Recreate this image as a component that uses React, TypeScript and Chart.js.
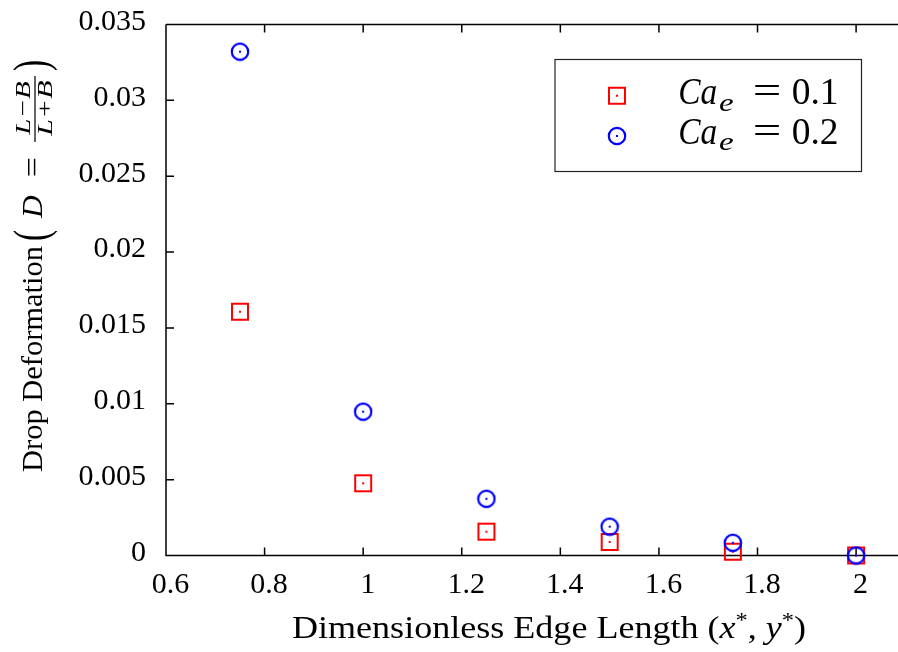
import React, { useEffect, useRef } from "react";
import { Chart, registerables } from "chart.js";

Chart.register(...registerables);

// ---- data ----
const edgeLength = [0.75, 1.0, 1.25, 1.5, 1.75, 2.0];
const deformationCa01 = [0.01607, 0.00476, 0.00157, 0.00089, 0.00025, 0.0];
const deformationCa02 = [0.03321, 0.00948, 0.00374, 0.0019, 0.00084, 0.0];
const xTickValues = [0.6, 0.8, 1.0, 1.2, 1.4, 1.6, 1.8, 2.0];
const yTickValues = [0, 0.005, 0.01, 0.015, 0.02, 0.025, 0.03, 0.035];
const seriesValues = ["0.1", "0.2"];
const xTitleText = "Dimensionless Edge Length (";
const yTitleText = "Drop Deformation";

const SERIF = '"Liberation Serif", "Times New Roman", serif';

function fmt(v: number): string {
  return String(parseFloat(Number(v).toFixed(4)));
}

function makeMarker(shape: "square" | "circle", color: string): HTMLCanvasElement {
  const c = document.createElement("canvas");
  c.width = 20;
  c.height = 20;
  const g = c.getContext("2d")!;
  g.strokeStyle = color;
  g.lineWidth = shape === "square" ? 2 : 2.2;
  if (shape === "square") {
    g.strokeRect(2, 2, 16, 16);
  } else {
    g.beginPath();
    g.arc(10, 10, 8.2, 0, Math.PI * 2);
    g.stroke();
  }
  g.fillStyle = color;
  g.fillRect(9, 9, 2, 2);
  return c;
}

// draw text so that its ink spans [x0, x1] horizontally (current frame)
function fitText(ctx: CanvasRenderingContext2D, text: string, font: string, x0: number, x1: number, baseline: number) {
  ctx.save();
  ctx.font = font;
  ctx.textAlign = "left";
  ctx.textBaseline = "alphabetic";
  const m = ctx.measureText(text);
  const inkW = m.actualBoundingBoxLeft + m.actualBoundingBoxRight;
  const sx = (x1 - x0) / inkW;
  ctx.translate(x0, baseline);
  ctx.scale(sx, 1);
  ctx.fillText(text, m.actualBoundingBoxLeft, 0);
  ctx.restore();
}

// draw text so that its ink fills the box [x0,x1]x[y0,y1] (current frame)
function fitBox(ctx: CanvasRenderingContext2D, text: string, font: string, x0: number, x1: number, y0: number, y1: number) {
  ctx.save();
  ctx.font = font;
  ctx.textAlign = "left";
  ctx.textBaseline = "alphabetic";
  const m = ctx.measureText(text);
  const inkW = m.actualBoundingBoxLeft + m.actualBoundingBoxRight;
  const inkH = m.actualBoundingBoxAscent + m.actualBoundingBoxDescent;
  const sx = (x1 - x0) / inkW;
  const sy = (y1 - y0) / inkH;
  ctx.translate(x0, y0);
  ctx.scale(sx, sy);
  ctx.fillText(text, m.actualBoundingBoxLeft, m.actualBoundingBoxAscent);
  ctx.restore();
}

type Run = { t: string; f: string; dy?: number };
function drawRuns(ctx: CanvasRenderingContext2D, runs: Run[], x0: number, x1: number, baseline: number) {
  ctx.save();
  ctx.textAlign = "left";
  ctx.textBaseline = "alphabetic";
  let total = 0;
  const ws = runs.map((r) => {
    ctx.font = r.f;
    const w = ctx.measureText(r.t).width;
    total += w;
    return w;
  });
  ctx.translate(x0, baseline);
  ctx.scale((x1 - x0) / total, 1);
  let x = 0;
  runs.forEach((r, i) => {
    ctx.font = r.f;
    ctx.fillText(r.t, x, r.dy || 0);
    x += ws[i];
  });
  ctx.restore();
}

const axesPlugin = {
  id: "gnuplotAxes",
  beforeDatasetsDraw(chart: any) {
    const { ctx, chartArea, scales } = chart;
    const { left, right, top, bottom } = chartArea;
    ctx.save();
    ctx.strokeStyle = "#000";
    ctx.lineWidth = 1.5;
    ctx.beginPath();
    ctx.moveTo(left, top);
    ctx.lineTo(right, top);
    ctx.moveTo(left, top);
    ctx.lineTo(left, bottom);
    ctx.lineTo(right, bottom);
    const tl = 8;
    xTickValues.forEach((v) => {
      const px = scales.x.getPixelForValue(v);
      ctx.moveTo(px, bottom);
      ctx.lineTo(px, bottom - tl);
      ctx.moveTo(px, top);
      ctx.lineTo(px, top + tl);
    });
    yTickValues.forEach((v) => {
      const py = scales.y.getPixelForValue(v);
      ctx.moveTo(left, py);
      ctx.lineTo(left + tl, py);
    });
    ctx.stroke();
    ctx.restore();
  },
};

function makeOverlayPlugin(markers: HTMLCanvasElement[]) {
  return {
    id: "overlay",
    afterDraw(chart: any) {
      const ctx: CanvasRenderingContext2D = chart.ctx;
      ctx.save();
      ctx.fillStyle = "#000";

      // ---- x axis title ----
      drawRuns(
        ctx,
        [
          { t: xTitleText, f: `31px ${SERIF}` },
          { t: "x", f: `italic 31px ${SERIF}` },
          { t: "*", f: `21px ${SERIF}`, dy: -11 },
          { t: ", ", f: `31px ${SERIF}` },
          { t: "y", f: `italic 31px ${SERIF}` },
          { t: "*", f: `21px ${SERIF}`, dy: -11 },
          { t: ")", f: `31px ${SERIF}` },
        ],
        292,
        806,
        638
      );

      // ---- y axis title (rotated; s runs upward from the text start) ----
      ctx.save();
      ctx.translate(41.5, 472);
      ctx.rotate(-Math.PI / 2);
      const fR = `30px ${SERIF}`;
      const fI = `italic 30px ${SERIF}`;
      const fS = `italic 22px ${SERIF}`;
      fitText(ctx, yTitleText, fR, 0, 226, 0);
      fitBox(ctx, "(", fR, 232, 242, -28.5, 16.5);
      fitText(ctx, "D", fI, 253, 277, 0);
      fitText(ctx, "=", fR, 296, 314, 0);
      ctx.fillRect(330, -7.1, 66, 1.2);
      fitText(ctx, "L\u2212B", fS, 336, 390, -11.5);
      fitText(ctx, "L+B", fS, 335, 391, 10.8);
      fitBox(ctx, ")", fR, 401, 411, -28.5, 16.5);
      ctx.restore();

      // ---- legend ----
      ctx.strokeStyle = "#222";
      ctx.lineWidth = 1.2;
      ctx.strokeRect(555, 59.5, 306.5, 112);
      const rowsY = [95.7, 136];
      const baselines = [104, 143.5];
      seriesValues.forEach((val, i) => {
        const mk = markers[i];
        ctx.drawImage(mk, 617 - mk.width / 2, rowsY[i] - mk.height / 2);
        const b = baselines[i];
        fitText(ctx, "Ca", `italic 37px ${SERIF}`, 680, 716.7, b);
        fitText(ctx, "e", `italic 26px ${SERIF}`, 719, 733, b + 6.5);
        fitText(ctx, "=", `37px ${SERIF}`, 754, 780, b - 1);
        fitText(ctx, val, `37px ${SERIF}`, 792.7, 837, b);
      });
      ctx.restore();
    },
  };
}

function zeroPad(s: any) {
  s.paddingLeft = 0;
  s.paddingRight = 0;
  s.paddingTop = 0;
  s.paddingBottom = 0;
}

export default function App() {
  const ref = useRef<HTMLCanvasElement>(null);
  useEffect(() => {
    document.body.style.margin = "0";
    const canvas = ref.current!;
    const redSq = makeMarker("square", "#ff0000");
    const blueCi = makeMarker("circle", "#0000ff");
    const tickFont = { family: SERIF, size: 30 };
    const chart = new Chart(canvas, {
      type: "scatter",
      data: {
        datasets: [
          {
            label: "Ca_e = " + seriesValues[0],
            data: edgeLength.map((x, i) => ({ x, y: deformationCa01[i] })),
            pointStyle: redSq as any,
            pointRadius: 9,
            borderColor: "#ff0000",
            backgroundColor: "#ff0000",
            order: 2,
            clip: false as any,
          },
          {
            label: "Ca_e = " + seriesValues[1],
            data: edgeLength.map((x, i) => ({ x, y: deformationCa02[i] })),
            pointStyle: blueCi as any,
            pointRadius: 9,
            borderColor: "#0000ff",
            backgroundColor: "#0000ff",
            order: 1,
            clip: false as any,
          },
        ],
      },
      options: {
        responsive: false,
        animation: false,
        devicePixelRatio: 1,
        layout: { autoPadding: false, padding: { top: 24.5, left: 0, right: 0, bottom: 0 } },
        plugins: {
          legend: { display: false },
          tooltip: { enabled: false },
          title: { display: false },
        },
        scales: {
          x: {
            type: "linear",
            min: 0.6,
            max: 2.085,
            grid: { display: false, drawTicks: false },
            border: { display: false },
            afterBuildTicks: (s: any) => {
              s.ticks = xTickValues.map((v) => ({ value: v }));
            },
            afterFit: (s: any) => {
              s.height = 96.5;
              zeroPad(s);
            },
            ticks: {
              padding: 12,
              labelOffset: 4.5,
              color: "#000",
              font: tickFont,
              maxRotation: 0,
              autoSkip: false,
              callback: (v: any) => fmt(v),
            },
          },
          y: {
            type: "linear",
            min: 0,
            max: 0.035,
            grid: { display: false, drawTicks: false },
            border: { display: false },
            afterBuildTicks: (s: any) => {
              s.ticks = yTickValues.map((v) => ({ value: v }));
            },
            afterFit: (s: any) => {
              s.width = 166;
              zeroPad(s);
            },
            ticks: {
              padding: 20,
              labelOffset: -2.5,
              color: "#000",
              font: tickFont,
              autoSkip: false,
              callback: (v: any) => fmt(v),
            },
          },
        },
      } as any,
      plugins: [axesPlugin, makeOverlayPlugin([redSq, blueCi])],
    });
    return () => chart.destroy();
  }, []);
  return (
    <div style={{ width: 898, height: 652 }}>
      <canvas ref={ref} width={898} height={652} style={{ display: "block" }} />
    </div>
  );
}
